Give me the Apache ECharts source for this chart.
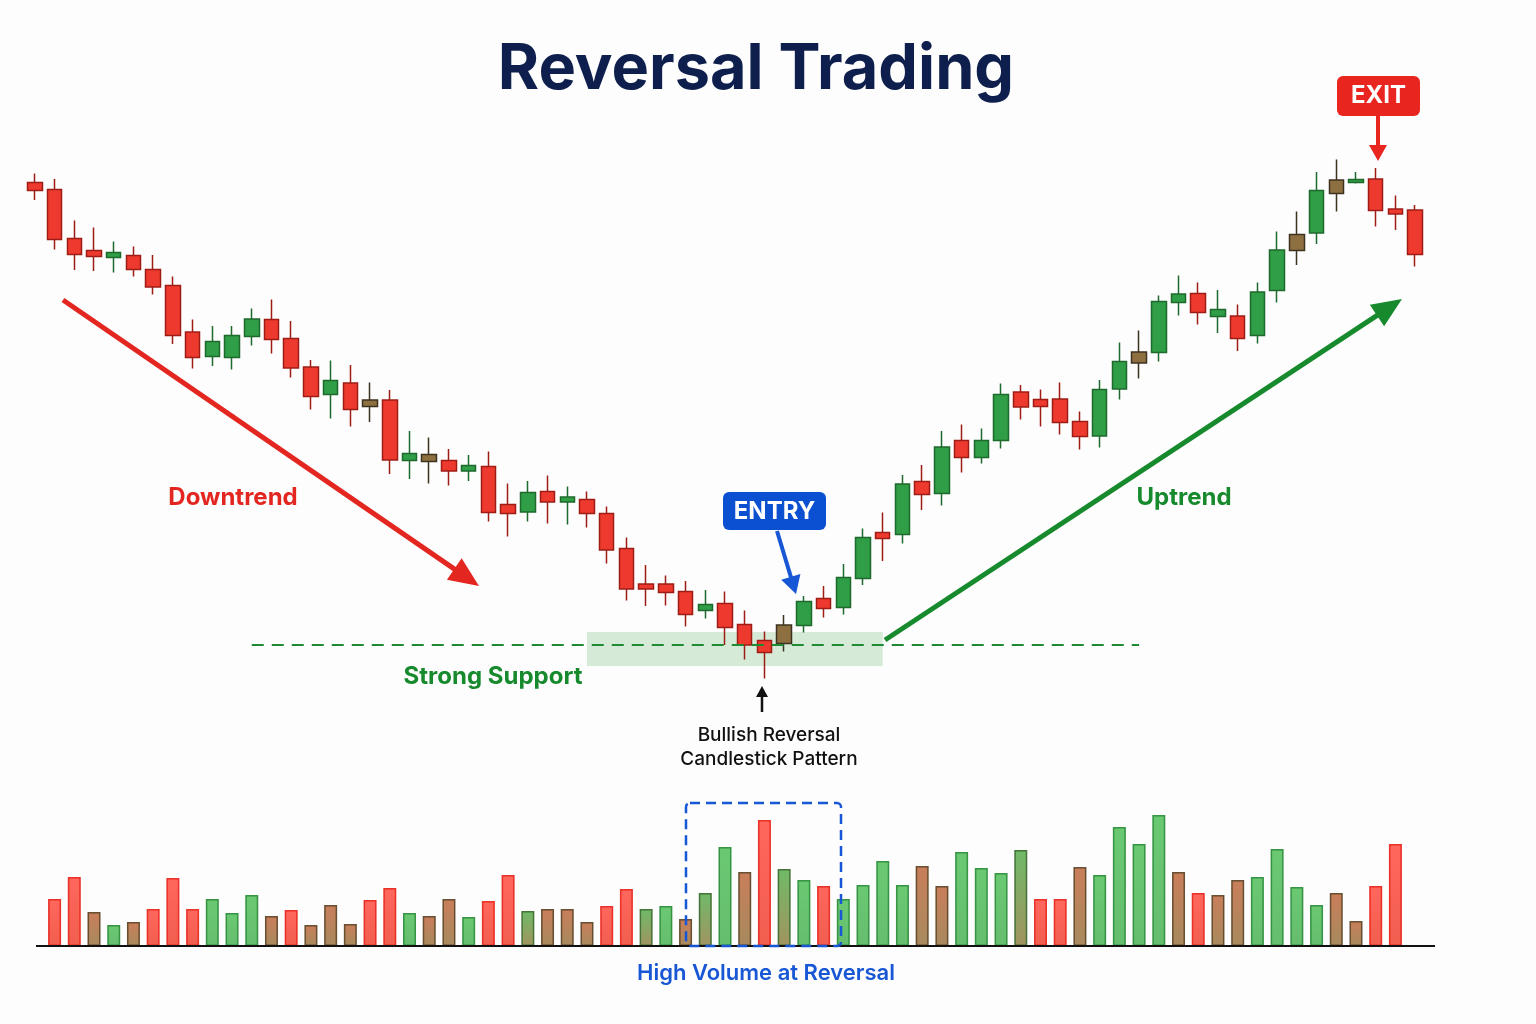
<!DOCTYPE html>
<html><head><meta charset="utf-8">
<script src="https://cdn.jsdelivr.net/npm/echarts@6/dist/echarts.min.js"></script>
<style>html,body{margin:0;padding:0;background:#fdfdfd}#c{width:1536px;height:1024px}</style>
</head><body><div id="c"></div>
<script>
// [open, close, low, high]
const candles = [
[103.5,101.9,100.0,105.3],[102.1,92.1,90.1,104.2],[92.3,89.1,86.0,95.9],[89.9,88.7,85.8,94.5],
[88.5,89.5,85.5,91.7],[88.9,86.1,84.7,90.7],[86.1,82.6,81.1,89.0],[82.9,72.9,71.2,84.7],
[73.6,68.5,66.3,76.1],[68.7,71.7,66.8,74.8],[68.5,72.9,66.1,74.8],[72.7,76.2,70.9,78.3],
[76.1,72.1,69.3,80.1],[72.3,66.4,64.5,75.8],[66.6,60.7,58.1,68.0],[61.1,63.9,56.3,67.9],
[63.4,58.1,54.7,67.0],[60.0,58.7,55.6,63.5],[60.0,48.0,45.2,62.0],[47.9,49.3,44.2,53.8],
[49.1,47.7,43.3,52.5],[47.9,45.8,42.9,50.2],[45.8,46.9,43.8,49.0],[46.7,37.5,35.7,49.7],
[39.1,37.3,32.7,43.3],[37.6,41.5,35.7,43.8],[41.7,39.6,35.3,44.9],[39.6,40.6,35.1,42.7],
[40.1,37.3,34.5,41.7],[37.3,30.0,27.3,38.7],[30.3,22.2,19.9,32.5],[23.2,22.2,18.8,27.0],
[23.2,21.5,18.9,24.9],[21.7,17.1,14.7,23.8],[17.9,19.1,16.3,22.0],[19.3,14.5,11.0,21.7],
[15.1,11.0,8.1,17.9],[11.9,9.5,4.3,13.7],[11.3,15.0,9.7,17.0],[14.9,19.7,13.5,20.8],
[20.3,18.3,16.5,22.8],[18.5,24.5,17.1,27.2],[24.3,32.5,23.0,34.3],[33.5,32.3,27.8,37.5],
[33.1,43.2,31.3,45.0],[43.7,41.1,38.0,47.0],[41.3,50.6,38.9,53.8],[51.9,48.5,45.5,55.1],
[48.5,51.9,47.3,54.3],[51.9,61.1,50.3,63.3],[61.6,58.6,56.1,63.0],[60.1,58.7,54.7,62.1],
[60.2,55.5,53.1,63.5],[55.7,52.7,50.1,57.7],[52.8,62.1,50.5,64.0],[62.2,67.7,60.1,71.5],
[67.4,69.6,64.3,73.9],[69.5,79.7,67.7,80.9],[79.5,81.2,76.9,84.9],[81.3,77.5,75.1,83.5],
[76.7,78.1,73.4,82.0],[76.8,72.3,69.8,79.1],[72.9,81.6,71.3,83.5],[81.9,90.0,79.5,93.7],
[89.9,93.1,87.0,97.7],[93.4,101.9,91.2,105.6],[101.3,104.0,97.7,108.1],[103.5,104.1,103.3,105.6],
[104.2,97.9,94.7,106.4],[98.2,97.2,94.0,100.9],[98.0,89.1,86.7,99.0]
];
const mutedCandles = [17, 20, 38, 56, 64, 66];

// volume bars sit under candles 2..70
const volumes = [
47,69,34,21,24,37,68,37,47,33,51,30,36,21,41,22,46,58,33,30,47,29,45,71,
35,37,37,24,40,57,37,40,27,53,99,74,126,77,66,60,47,61,85,61,80,60,94,
78,73,96,47,47,79,71,119,102,131,74,53,51,66,69,97,59,41,53,25,60,102
];
const volumeTones = [
'r','r','b','g','b','r','r','r','g','g','g','b','r','b','b','b','r','r','g','b','b','g','r','r',
'm','b','b','b','r','r','m','g','b','m','g','b','r','m','g','r','g','g','g','g','b','b','g',
'g','g','m','r','r','b','g','g','g','g','b','r','b','b','g','g','g','g','b','b','r','r'
];

const candleCats = candles.map((_, i) => 'T' + (i + 1));
const supportLevel = 11;

const FONT = 'Inter, "Noto Sans", sans-serif';
const RED = '#e3261f', GREEN = '#168a2c', BLUE = '#1756d4';

function grad(top, bottom) {
  return new echarts.graphic.LinearGradient(0, 0, 0, 1, [{offset: 0, color: top}, {offset: 1, color: bottom}]);
}
const toneStyle = {
  r: {color: grad('#ff5a4f', '#f0503f'), borderColor: '#e8251c'},
  g: {color: grad('#5ec466', '#58b862'), borderColor: '#2a8d3a'},
  b: {color: grad('#c5734c', '#a08050'), borderColor: '#5c4426'},
  m: {color: grad('#63b45c', '#9a8a52'), borderColor: '#3c6a2e'}
};

const candleData = candles.map((c, i) => {
  if (mutedCandles.indexOf(i) >= 0) {
    return {value: c, itemStyle: {color: '#8e7040', color0: '#8e7040', borderColor: '#3e3220', borderColor0: '#3e3220'}};
  }
  return c;
});
const volumeData = ['-'].concat(
  volumes.map((v, i) => ({value: v, itemStyle: Object.assign({borderWidth: 1.5, opacity: 0.92}, toneStyle[volumeTones[i]])})),
  ['-']
);

function arrow(x1, y1, x2, y2, color, w, hl, hw) {
  const dx = x2 - x1, dy = y2 - y1, L = Math.hypot(dx, dy), ux = dx / L, uy = dy / L;
  const bx = x2 - ux * hl, by = y2 - uy * hl, nx = -uy, ny = ux;
  return [
    {type: 'line', z: 100, shape: {x1: x1, y1: y1, x2: bx + ux * 2, y2: by + uy * 2}, style: {stroke: color, lineWidth: w}},
    {type: 'polygon', z: 100, shape: {points: [[x2, y2], [bx + nx * hw, by + ny * hw], [bx - nx * hw, by - ny * hw]]}, style: {fill: color}}
  ];
}
function label(x, y, text, size, weight, color) {
  return {type: 'text', z: 110, x: x, y: y, style: {text: text, fill: color, font: weight + ' ' + size + 'px ' + FONT, align: 'center', verticalAlign: 'middle', textAlign: 'center', textVerticalAlign: 'middle'}};
}

const graphics = [].concat(
  [label(756, 70, 'Reversal Trading', 63, 700, '#0e1f4d')],
  arrow(63, 300, 479, 586, RED, 5, 30, 13),
  arrow(885, 640, 1402, 299, GREEN, 5, 30, 13),
  [label(233, 498, 'Downtrend', 24, 700, RED), label(1184, 498, 'Uptrend', 24, 700, GREEN),
   label(493, 677, 'Strong Support', 24, 700, GREEN)],
  [{type: 'rect', z: 105, shape: {x: 723, y: 492, width: 103, height: 38, r: 6}, style: {fill: '#0b50d0'}},
   label(774.5, 512, 'ENTRY', 24, 700, '#ffffff')],
  arrow(777, 531, 796, 594, BLUE, 4, 18, 10),
  [{type: 'rect', z: 105, shape: {x: 1337, y: 76, width: 83, height: 40, r: 6}, style: {fill: '#e8251f'}},
   label(1378.5, 96, 'EXIT', 24, 700, '#ffffff')],
  arrow(1378, 116, 1378, 161, '#e8251f', 4, 16, 9),
  arrow(762, 712, 762, 686, '#111111', 2.5, 11, 6),
  [label(769, 735, 'Bullish Reversal', 19, 500, '#111111'), label(769, 759, 'Candlestick Pattern', 19, 500, '#111111')],
  [{type: 'line', z: 90, shape: {x1: 36, y1: 946, x2: 1435, y2: 946}, style: {stroke: '#111111', lineWidth: 2}},
   {type: 'rect', z: 95, shape: {x: 686, y: 803, width: 155, height: 143, r: 4}, style: {fill: 'none', stroke: BLUE, lineWidth: 2.5, lineDash: [10, 6]}},
   label(766, 973, 'High Volume at Reversal', 22, 600, BLUE)]
);

const chart = echarts.init(document.getElementById('c'), null, {renderer: 'canvas'});
chart.setOption({
  backgroundColor: '#fdfdfd',
  animation: false,
  grid: [
    {left: 25, top: 150, width: 1400, height: 550},
    {left: 25, top: 796, width: 1400, height: 150}
  ],
  xAxis: [
    {type: 'category', gridIndex: 0, data: candleCats, boundaryGap: true, show: false},
    {type: 'category', gridIndex: 1, data: candleCats, boundaryGap: true, show: false}
  ],
  yAxis: [
    {type: 'value', gridIndex: 0, min: 0, max: 110, show: false, splitLine: {show: false}},
    {type: 'value', gridIndex: 1, min: 0, max: 150, show: false, splitLine: {show: false}}
  ],
  series: [
    {
      type: 'candlestick', xAxisIndex: 0, yAxisIndex: 0, data: candleData, barWidth: 15,
      itemStyle: {color: '#2f9e46', color0: '#ee3a2e', borderColor: '#1c6a2c', borderColor0: '#9e1c16', borderWidth: 1.5},
      markArea: {silent: true, itemStyle: {color: 'rgba(110,190,120,0.28)'},
        data: [[{coord: [28, 13.6]}, {coord: [43, 6.8]}]]},
      markLine: {silent: true, symbol: ['none', 'none'], label: {show: false},
        lineStyle: {color: '#1f8a34', type: [12, 8], width: 2},
        data: [[{coord: [11, supportLevel]}, {coord: [56, supportLevel]}]]}
    },
    {type: 'bar', xAxisIndex: 1, yAxisIndex: 1, data: volumeData, barWidth: 13}
  ],
  graphic: graphics
});
</script></body></html>
